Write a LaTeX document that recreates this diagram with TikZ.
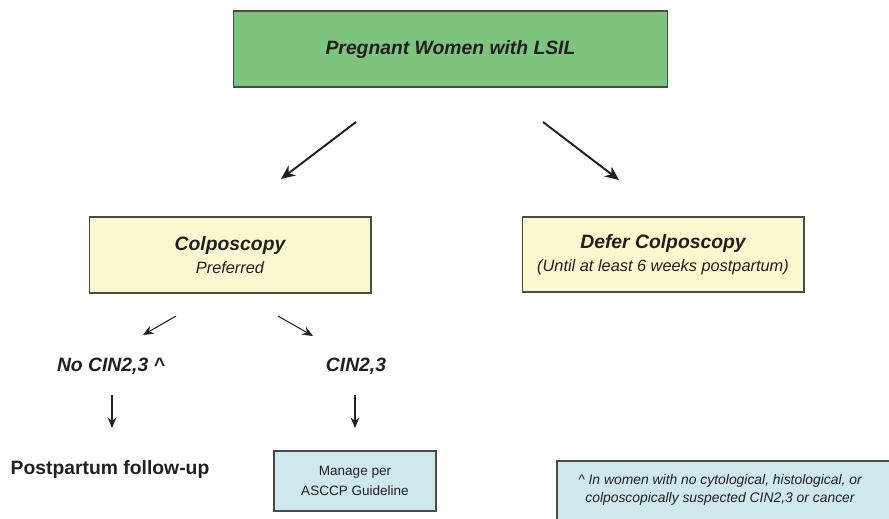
\documentclass[tikz,border=0pt]{standalone}
\usepackage{fontspec}
\setmainfont{Liberation Sans}
\usetikzlibrary{arrows.meta}

\definecolor{topgreen}{HTML}{7DC47E}
\definecolor{paleyellow}{HTML}{FBF8CF}
\definecolor{paleblue}{HTML}{CFE8EE}
\definecolor{boxline}{HTML}{4A4A4A}
\definecolor{inkgray}{HTML}{231F20}

\tikzset{
    stepbox/.style={draw=boxline, line width=0.6pt, align=center, inner sep=0pt},
    bigtext/.style={font=\fontsize{11}{13}\selectfont\bfseries\itshape},
    bigarrow/.style={line width=1.1pt, -{Stealth[length=8pt,width=7pt]}},
    smallarrow/.style={line width=0.6pt, -{Stealth[length=6pt,width=5pt]}}
}

\begin{document}
\begin{tikzpicture}[x=0.02cm, y=-0.02cm, text=inkgray, draw=inkgray]
        \useasboundingbox (0,0) rectangle (889,518);

        % boxes
        \node[stepbox, fill=topgreen, minimum width=8.7cm, minimum height=1.52cm, bigtext]
            (preg) at (450.5,49) {Pregnant Women with LSIL};
        \node[stepbox, fill=paleyellow, minimum width=5.64cm, minimum height=1.52cm]
            (colpo) at (230,255) {{\fontsize{11}{12}\selectfont\bfseries\itshape Colposcopy}\\[1pt]
            {\fontsize{9.3}{11}\selectfont\itshape Preferred}};
        \node[stepbox, fill=paleyellow, minimum width=5.64cm, minimum height=1.5cm]
            (defer) at (663,254.5) {{\fontsize{11}{12}\selectfont\bfseries\itshape Defer Colposcopy}\\[1pt]
            {\fontsize{9.3}{11}\selectfont\itshape (Until at least 6 weeks postpartum)}};

        % outcomes
        \node[bigtext] (nocin) at (111,366) {No CIN2,3 \^{}};
        \node[bigtext] (cin) at (356,366) {CIN2,3};
        \node[font=\fontsize{11}{13}\selectfont\bfseries] (follow) at (110,469) {Postpartum follow-up};
        \node[stepbox, fill=paleblue, minimum width=3.24cm, minimum height=1.2cm,
              font=\fontsize{7.7}{11.5}\selectfont] (manage) at (355,481) {Manage per\\ASCCP Guideline};

        % footnote
        \fill[paleblue, draw=boxline, line width=0.6pt] (557,461) rectangle (900,530);
        \node[align=center, font=\fontsize{7.9}{10.5}\selectfont\itshape] (fnote) at (720,490)
            {\^{} In women with no cytological, histological, or\\colposcopically suspected CIN2,3 or cancer};

        % arrow ends
        \foreach \n/\x/\y in {a1/356/122, a2/281/179, b1/543/122, b2/619/180,
                              c1/176/316, c2/143/335, d1/278/316, d2/313/336,
                              e1/112/395, e2/112/428, f1/355/395, f2/355/428} {
            \coordinate (\n) at (\x,\y);
        }

        \draw[bigarrow] (a1) -- (a2);
        \draw[bigarrow] (b1) -- (b2);
        \foreach \s/\t in {c1/c2, d1/d2, e1/e2, f1/f2}
            \draw[smallarrow] (\s) -- (\t);
\end{tikzpicture}
\end{document}
